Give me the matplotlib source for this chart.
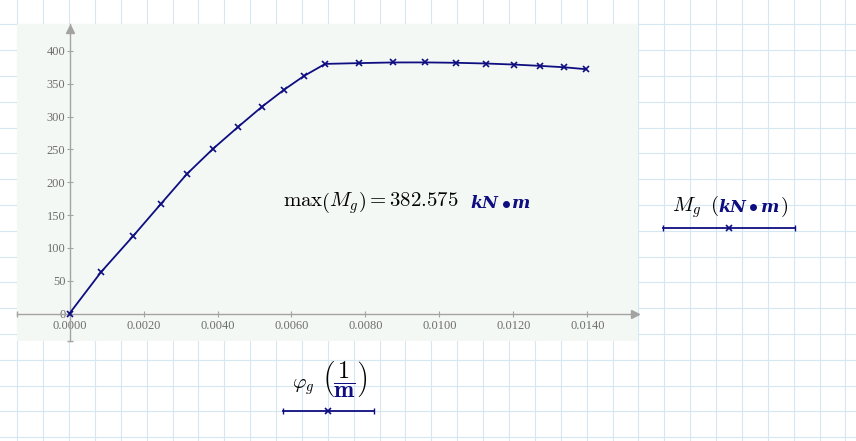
import matplotlib
matplotlib.use('Agg')
import matplotlib.pyplot as plt
import numpy as np
from matplotlib.lines import Line2D
from matplotlib.transforms import Bbox

# values
phi_g = [0.0, 0.00085, 0.00172, 0.00247, 0.00318, 0.00388, 0.00455, 0.00520,
         0.00580, 0.00634, 0.00691, 0.00782, 0.00874, 0.00961, 0.01045,
         0.01125, 0.01202, 0.01272, 0.01337, 0.01396]
M_g = [0.0, 63.0, 118.0, 167.0, 213.0, 251.0, 284.0, 315.0, 341.0, 362.0,
       380.3, 381.5, 382.5, 382.575, 382.0, 380.9, 379.3, 377.3, 375.2, 372.2]
x_ticks = [0.0, 0.002, 0.004, 0.006, 0.008, 0.010, 0.012, 0.014]
y_ticks = [0, 50, 100, 150, 200, 250, 300, 350, 400]
M_max = 382.575

W, H = 856, 441
NAVY = '#0e0e80'
AXC = '#a3a3a3'
GRID = '#d7e7f1'

plt.rcParams['mathtext.fontset'] = 'cm'

fig = plt.figure(figsize=(W / 100, H / 100), dpi=100)
fig.patch.set_facecolor('white')


def fx(px):
    return px / W


def fy(py):
    return 1 - py / H


# worksheet grid behind everything
bg = fig.add_axes([0, 0, 1, 1], zorder=-5)
bg.set_xlim(0, W)
bg.set_ylim(H, 0)
bg.axis('off')
for gx in np.arange(17.3, W, 25.88):
    bg.axvline(gx, color=GRID, lw=0.8)
for gy in np.arange(24.3, H, 25.8):
    bg.axhline(gy, color=GRID, lw=0.8)

# plot region
ax = fig.add_axes([fx(17), 1 - 341 / H, 621 / W, 317 / H])
ax.set_facecolor('#f4f8f5')
ax.set_xlim(-0.001419, 0.015365)
ax.set_ylim(-41.9, 441.1)

for s in ['top', 'right']:
    ax.spines[s].set_visible(False)
for s in ['left', 'bottom']:
    ax.spines[s].set_position(('data', 0))
    ax.spines[s].set_color(AXC)
    ax.spines[s].set_linewidth(1.0)

# arrow heads and end caps of the axes
ax.plot([0.9955], [0], marker='>', ms=6, color=AXC, transform=ax.get_yaxis_transform(), clip_on=False)
ax.plot([0], [0.985], marker='^', ms=6, color=AXC, transform=ax.get_xaxis_transform(), clip_on=False)
ax.plot([0.0005], [0], marker='|', ms=4, color=AXC, transform=ax.get_yaxis_transform(), clip_on=False)
ax.plot([0], [0.001], marker='_', ms=4, color=AXC, transform=ax.get_xaxis_transform(), clip_on=False)

ax.set_xticks(x_ticks)
ax.set_xticklabels(['%.4f' % v for v in x_ticks])
ax.set_yticks(y_ticks)
ax.set_yticklabels([str(v) for v in y_ticks])
ax.tick_params(direction='inout', length=5, width=0.8, color=AXC,
               labelcolor='#6e6e6e', labelsize=8.9)
ax.tick_params(axis='x', pad=2.0)
ax.tick_params(axis='y', pad=0.5)
for lab in ax.get_xticklabels() + ax.get_yticklabels():
    lab.set_fontfamily('Liberation Serif')

ax.plot(phi_g, M_g, color=NAVY, lw=1.3, marker='x', ms=4.5, mew=1.2, zorder=3, clip_on=False)

# max annotation
fs = 15
unit_kw = dict(family='DejaVu Serif', weight='bold', style='italic', color=NAVY, fontsize=12.5)
dot_kw = dict(color=NAVY, fontsize=13, ha='center', va='baseline')
fig.text(fx(283), fy(207.5), r'$\max\left(M_g\right)=%.3f$' % M_max, fontsize=fs, ha='left', va='baseline')
fig.text(fx(470), fy(207.5), 'kN', ha='left', va='baseline', **unit_kw)
fig.text(fx(505.5), fy(207.5), r'$\bullet$', **dot_kw)
fig.text(fx(511.5), fy(207.5), 'm', ha='left', va='baseline', **unit_kw)

# y trace label
fig.text(fx(671.5), fy(211.5), r'$M_g$', fontsize=fs, ha='left', va='baseline')
fig.text(fx(710.5), fy(211.5), r'$($', fontsize=fs, ha='left', va='baseline')
fig.text(fx(718), fy(211.5), 'kN', ha='left', va='baseline', **unit_kw)
fig.text(fx(752.5), fy(211.5), r'$\bullet$', **dot_kw)
fig.text(fx(760), fy(211.5), 'm', ha='left', va='baseline', **unit_kw)
fig.text(fx(779.5), fy(211.5), r'$)$', fontsize=fs, ha='left', va='baseline')
fig.add_artist(Line2D([fx(663), fx(795)], [fy(227.7)] * 2, color=NAVY, lw=1.3))
fig.add_artist(Line2D([fx(663), fx(795)], [fy(227.7)] * 2, color=NAVY, ls='none', marker='|', ms=4))
fig.add_artist(Line2D([fx(729)], [fy(227.7)], color=NAVY, marker='x', ms=4, mew=1.2))

# x trace label
fig.text(fx(291.5), fy(388), r'$\varphi_g$', fontsize=fs, ha='left', va='baseline')
frac_s = r'$\left(\dfrac{1}{\mathbf{m}}\right)$'
frac_fs = 17.5
probe = fig.text(fx(321.5), fy(379), frac_s, fontsize=frac_fs, ha='left', va='center')
fig.canvas.draw()
bb = probe.get_window_extent(fig.canvas.get_renderer())
probe.remove()
cx0 = round(bb.x0 + 0.24 * bb.width)
cx1 = round(bb.x1 - 0.24 * bb.width)
cy = round(bb.y0 + 0.5 * bb.height - 2)
# same text drawn in pieces so that only the "m" comes out navy
for col, box in [('black', [[0, cy], [W, H]]),
                 ('black', [[0, 0], [cx0, cy]]),
                 ('black', [[cx1, 0], [W, cy]]),
                 (NAVY, [[cx0, 0], [cx1, cy]])]:
    t = fig.text(fx(321.5), fy(379), frac_s, fontsize=frac_fs, ha='left', va='center', color=col)
    t.set_clip_box(Bbox(box))
fig.add_artist(Line2D([fx(283), fx(374)], [fy(411)] * 2, color=NAVY, lw=1.3))
fig.add_artist(Line2D([fx(283), fx(374)], [fy(411)] * 2, color=NAVY, ls='none', marker='|', ms=4))
fig.add_artist(Line2D([fx(328)], [fy(411)], color=NAVY, marker='x', ms=4, mew=1.2))

fig.savefig('out.png', dpi=100)
